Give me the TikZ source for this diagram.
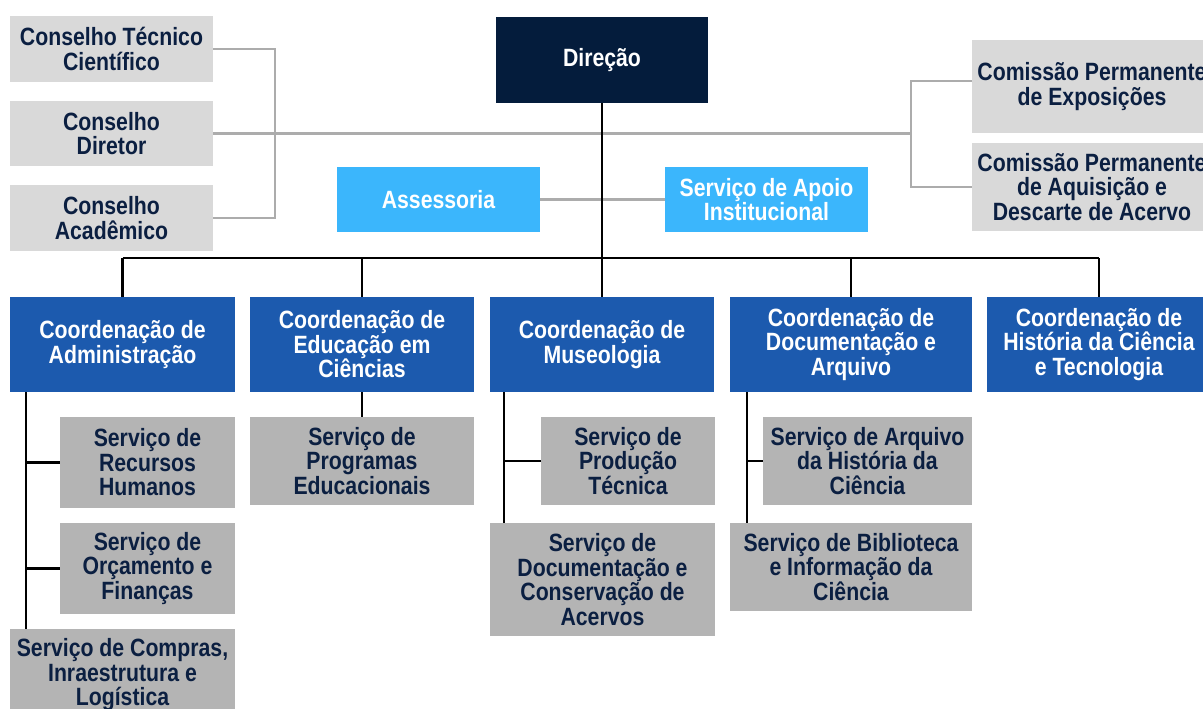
\documentclass[tikz,border=0pt]{standalone}
\usepackage{fontspec}
\newfontfamily\cf{Liberation Sans}[FakeStretch=0.85]
\definecolor{navy}{HTML}{0B1F41}
\definecolor{dirfill}{HTML}{041C3C}
\definecolor{lgray}{HTML}{D9D9D9}
\definecolor{dgray}{HTML}{B4B4B4}
\definecolor{cblue}{HTML}{1C5AAE}
\definecolor{lblue}{HTML}{3BB6FC}
\definecolor{lngray}{HTML}{ACACAC}
\begin{document}
\begin{tikzpicture}[x=1pt,y=-1pt,
  box/.style={inner sep=0pt,align=center,font=\cf\bfseries\fontsize{25}{24.5}\selectfont},
  cons/.style={box,fill=lgray,text=navy},
  serv/.style={box,fill=dgray,text=navy},
  coord/.style={box,fill=cblue,text=white},
  asse/.style={box,fill=lblue,text=white},
  direc/.style={box,fill=dirfill,text=white},
  gline/.style={draw=lngray,line width=2.2pt},
  bline/.style={draw=black,line width=2.6pt}]
\useasboundingbox (0,0) rectangle (1203,709);
% top left councils
\node[cons,minimum width=203pt,minimum height=66pt] (ctc) at (111.5,49) {Conselho Técnico\\Científico};
\node[cons,minimum width=203pt,minimum height=65pt] (cdir) at (111.5,133.5) {Conselho\\Diretor};
\node[cons,minimum width=203pt,minimum height=66pt] (cac) at (111.5,218) {Conselho\\Acadêmico};
% direction
\node[direc,minimum width=212pt,minimum height=86pt] (dir) at (602,60) {Direção};
\node[asse,minimum width=203pt,minimum height=65pt] (ass) at (438.5,199.5) {Assessoria};
\node[asse,minimum width=203pt,minimum height=65pt] (sai) at (766.5,199.5) {Serviço de Apoio\\Institucional};
% commissions
\node[cons,minimum width=240pt,minimum height=93pt] (cpe) at (1092,86.5) {Comissão Permanente\\de Exposições};
\node[cons,minimum width=240pt,minimum height=88pt] (cpa) at (1092,187) {Comissão Permanente\\de Aquisição e\\Descarte de Acervo};
% coordinations
\node[coord,minimum width=225pt,minimum height=95pt] (cadm) at (122.5,344.5) {Coordenação de\\Administração};
\node[coord,minimum width=224pt,minimum height=95pt] (cedu) at (362,344.5) {Coordenação de\\Educação em\\Ciências};
\node[coord,minimum width=224pt,minimum height=95pt] (cmus) at (602,344.5) {Coordenação de\\Museologia};
\node[coord,minimum width=242pt,minimum height=95pt] (cdoc) at (851,344.5) {Coordenação de\\Documentação e\\Arquivo};
\node[coord,minimum width=224pt,minimum height=95pt] (chis) at (1099,344.5) {Coordenação de\\História da Ciência\\e Tecnologia};
% services
\node[serv,minimum width=175pt,minimum height=91pt] (srh) at (147.5,462.5) {Serviço de\\Recursos\\Humanos};
\node[serv,minimum width=175pt,minimum height=91pt] (sorc) at (147.5,568.5) {Serviço de\\Orçamento e\\Finanças};
\node[serv,minimum width=225pt,minimum height=92pt] (scomp) at (122.5,675) {Serviço de Compras,\\Inraestrutura e\\Logística};
\node[serv,minimum width=224pt,minimum height=88pt] (sprog) at (362,461) {Serviço de\\Programas\\Educacionais};
\node[serv,minimum width=174pt,minimum height=88pt] (sprod) at (628,461) {Serviço de\\Produção\\Técnica};
\node[serv,minimum width=225pt,minimum height=113pt] (sdoc) at (602.5,579.5) {Serviço de\\Documentação e\\Conservação de\\Acervos};
\node[serv,minimum width=209pt,minimum height=88pt] (sarq) at (867.5,461) {Serviço de Arquivo\\da História da\\Ciência};
\node[serv,minimum width=242pt,minimum height=88pt] (sbib) at (851,567) {Serviço de Biblioteca\\e Informação da\\Ciência};
% gray connectors
\coordinate (lbt) at (275,49);
\coordinate (lbb) at (275,218);
\coordinate (rbm) at (911,133.5);
\coordinate (rbt) at (911,81);
\coordinate (rbb) at (911,187);
\draw[gline] (ctc.east) -- (lbt) -- (lbb) -- (cac.east);
\draw[gline] (cdir.east) -- (rbm);
\draw[gline] (rbt -| cpe.west) -- (rbt) -- (rbb) -- (cpa.west);
\draw[gline] (ass.east) -- (sai.west);
% black connectors
\coordinate (bus) at (0,258);
\draw[bline] (dir.south) -- (cmus.north);
\draw[bline] (cadm.north |- bus) -- (chis.north |- bus);
\foreach \n in {cadm,cedu,cdoc,chis} \draw[bline] (\n.north |- bus) -- (\n.north);
% administration
\coordinate (av) at (26,392);
\draw[bline] (av) -- (av |- scomp.north);
\draw[bline] (av |- srh.west) -- (srh.west);
\draw[bline] (av |- sorc.west) -- (sorc.west);
% education
\draw[bline] (cedu.south) -- (sprog.north);
% museology
\coordinate (mv) at (504,392);
\draw[bline] (mv) -- (mv |- sdoc.north);
\draw[bline] (mv |- sprod.west) -- (sprod.west);
% documentation
\coordinate (dv) at (747,392);
\draw[bline] (dv) -- (dv |- sbib.north);
\draw[bline] (dv |- sarq.west) -- (sarq.west);
\end{tikzpicture}
\end{document}
